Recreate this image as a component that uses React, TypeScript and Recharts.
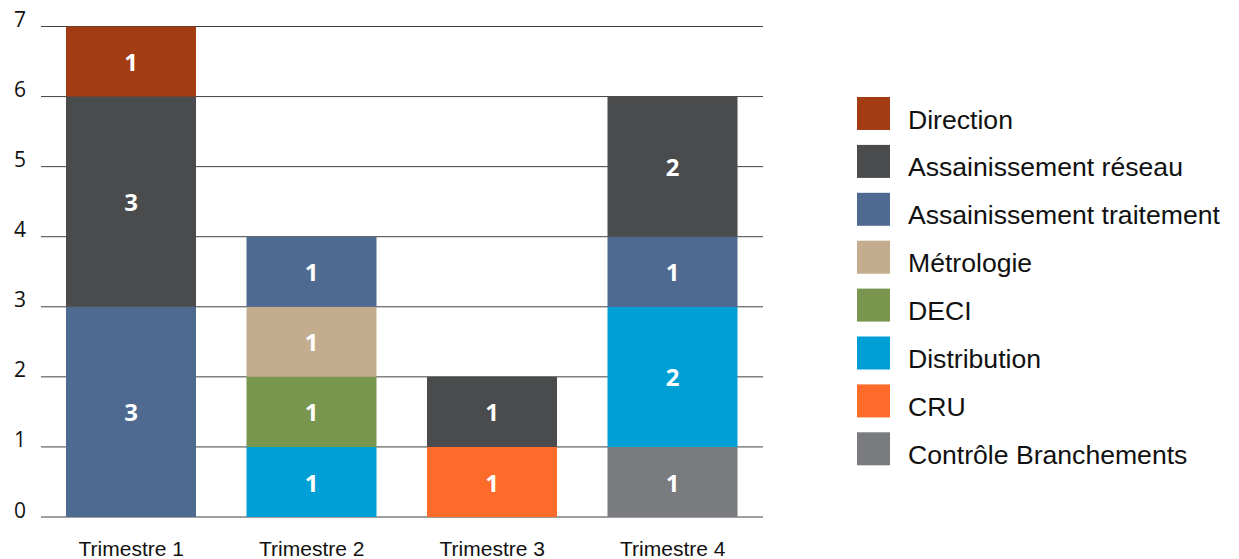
import React from "react";
import { BarChart, Bar, XAxis, YAxis, CartesianGrid, Legend, LabelList } from "recharts";

const categories = ["Trimestre 1", "Trimestre 2", "Trimestre 3", "Trimestre 4"];
const controleBranchements = [null, null, null, 1];
const cru = [null, null, 1, null];
const distribution = [null, 1, null, 2];
const deci = [null, 1, null, null];
const metrologie = [null, 1, null, null];
const assainissementTraitement = [3, 1, null, 1];
const assainissementReseau = [3, null, 1, 2];
const direction = [1, null, null, null];
const yTicks = [0, 1, 2, 3, 4, 5, 6, 7];

// stack order bottom -> top
const SERIES = [
  { key: "controle", name: "Contrôle Branchements", values: controleBranchements, color: "#7A7B7F" },
  { key: "cru", name: "CRU", values: cru, color: "#FD6B2B" },
  { key: "distribution", name: "Distribution", values: distribution, color: "#00A0D7" },
  { key: "deci", name: "DECI", values: deci, color: "#78964E" },
  { key: "metrologie", name: "Métrologie", values: metrologie, color: "#C4AD8F" },
  { key: "traitement", name: "Assainissement traitement", values: assainissementTraitement, color: "#4F6A90" },
  { key: "reseau", name: "Assainissement réseau", values: assainissementReseau, color: "#4A4B4D" },
  { key: "direction", name: "Direction", values: direction, color: "#A33C12" },
];

const data = categories.map((name, i) => {
  const row: Record<string, any> = { name };
  SERIES.forEach((s) => {
    row[s.key] = s.values[i];
  });
  return row;
});

const BarValueLabel = (props: any) => {
  const { x, y, width, height, value } = props;
  if (value == null || !height || Math.abs(height) < 1) return null;
  return (
    <text
      x={x + width / 2}
      y={y + height / 2}
      dy="0.4em"
      textAnchor="middle"
      fill="#ffffff"
      fontFamily="'Open Sans', 'Noto Sans', sans-serif"
      fontWeight={700}
      fontSize={24}
    >
      {value}
    </text>
  );
};

const XTick = (props: any) => {
  const { x, y, payload } = props;
  return (
    <text x={x} y={y + 39} textAnchor="middle" fill="#111" fontFamily="'Liberation Sans', Arial, sans-serif" fontSize={21}>
      {payload.value}
    </text>
  );
};

const YTick = (props: any) => {
  const { x, y, payload } = props;
  return (
    <text x={x - 15} y={y + 0.5} textAnchor="end" fill="#111" fontFamily="'Open Sans', 'Noto Sans', sans-serif" fontSize={21}>
      {payload.value}
    </text>
  );
};

const LegendContent = () => {
  const items = [...SERIES].reverse();
  const step = 47.9;
  return (
    <svg width={382} height={400} style={{ display: "block" }}>
      {items.map((s, i) => (
        <g key={s.key}>
          <rect x={0} y={i * step} width={33} height={33} fill={s.color} />
          <text x={51} y={i * step + 31.5} fill="#111" fontFamily="'Liberation Sans', Arial, sans-serif" fontSize={26.6}>
            {s.name}
          </text>
        </g>
      ))}
    </svg>
  );
};

export default function App() {
  return (
    <div style={{ position: "absolute", left: 0, top: 0, width: 1239, height: 559, overflow: "hidden", background: "#fff" }}>
      <BarChart
        width={1239}
        height={559}
        data={data}
        margin={{ top: 26.5, right: 94, bottom: 0, left: 0 }}
        barSize={130}
      >
        <CartesianGrid vertical={false} stroke="#404040" strokeWidth={1} />
        <XAxis
          dataKey="name"
          axisLine={false}
          tickLine={false}
          tickSize={0}
          tickMargin={0}
          height={42}
          tick={<XTick />}
          interval={0}
        />
        <YAxis
          domain={[0, 7]}
          ticks={yTicks}
          axisLine={false}
          tickLine={false}
          tickSize={0}
          tickMargin={0}
          width={41}
          tick={<YTick />}
          interval={0}
        />
        <Legend
          layout="horizontal"
          verticalAlign="middle"
          align="right"
          content={<LegendContent />}
          wrapperStyle={{ left: 857, top: 96.7, width: 382, height: 400 }}
        />
        {SERIES.map((s) => (
          <Bar key={s.key} dataKey={s.key} name={s.name} stackId="a" fill={s.color} isAnimationActive={false}>
            <LabelList dataKey={s.key} content={<BarValueLabel />} />
          </Bar>
        ))}
      </BarChart>
    </div>
  );
}
